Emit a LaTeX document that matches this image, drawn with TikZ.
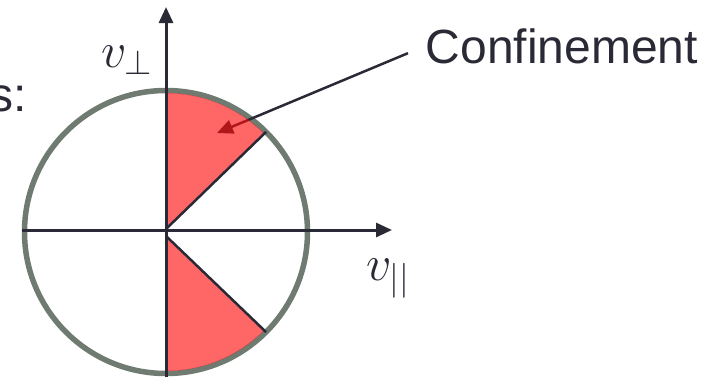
\RequirePackage{fix-cm}
\documentclass[tikz,border=0pt]{standalone}
\usepackage{amsmath}
\usepackage{fontspec}
\setmainfont{Liberation Sans}
\usepackage{xcolor}
\usetikzlibrary{arrows.meta, positioning, calc}

\definecolor{axisdark}{HTML}{2A2A36}
\definecolor{rimgray}{HTML}{6F7A70}
\definecolor{confred}{RGB}{255,12,12}

\begin{document}
\begin{tikzpicture}[x=1pt, y=-1pt, >={Triangle[length=16pt,width=14pt]},
  axis/.style={->, axisdark, line width=3pt},
  edge/.style={axisdark, line width=2.5pt},
  cone/.style={fill=confred, fill opacity=0.63},
  bigtext/.style={inner sep=0pt, text=axisdark, font=\fontsize{48}{56}\selectfont},
  vlabel/.style={inner sep=0pt, text=axisdark, font=\fontsize{50}{58}\selectfont}]

\useasboundingbox (0,0) rectangle (713,376);

\def\R{141.5}
\def\r{139}

\coordinate (O) at (166,232);
\coordinate (up) at (166,229);
\coordinate (dn) at (166,236);

% velocity circle
\draw[rimgray, line width=5.5pt] (O) circle[radius=\R];

% callout
\node[bigtext, anchor=base west] (conf) at (425.5,63) {Confinement};
\node[bigtext, anchor=base east] (cut) at (27,111) {s:};
\coordinate (tip) at (217,133);
\draw[->, edge, shorten <=19pt] (conf.west) -- (tip);

% loss cones
\fill[cone] (up) -- ($(O)+(-45:\r)$) arc[start angle=-45, end angle=-90, radius=\r] -- cycle;
\fill[cone] (dn) -- ($(O)+(45:\r)$) arc[start angle=45, end angle=90, radius=\r] -- cycle;
\draw[edge] (up) -- ($(O)+(-45:\R)$);
\draw[edge] (dn) -- ($(O)+(45:\R)$);

% axes
\coordinate (xl) at (22,230);
\coordinate (xr) at (392,230);
\coordinate (yb) at (166,380);
\coordinate (yt) at (166,7);
\draw[axis] (xl) -- (xr);
\draw[axis] (yb) -- (yt);

\node[vlabel, anchor=base west] (vperp) at (101,67) {$v_{\perp}$};
\node[vlabel, anchor=base west] (vpar) at (366,280) {$v_{||}$};

\end{tikzpicture}
\end{document}
